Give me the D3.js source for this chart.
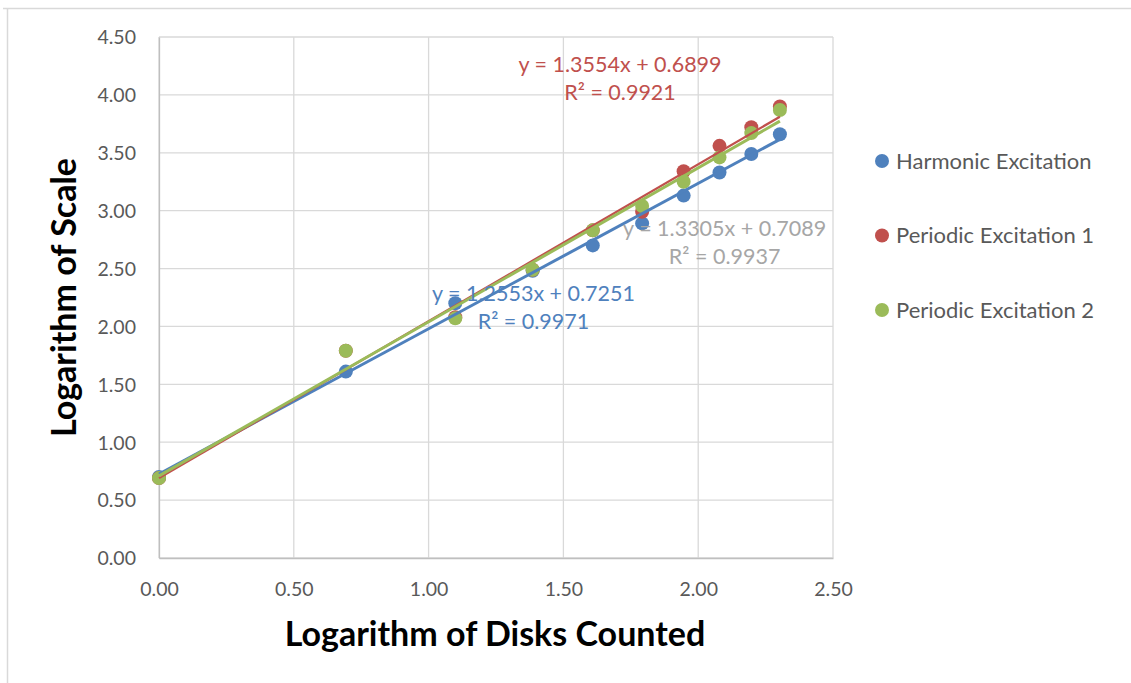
<!DOCTYPE html>
<html><head><meta charset="utf-8">
<script src="https://cdn.jsdelivr.net/npm/d3@7"></script>
<style>
html,body{margin:0;padding:0;background:#fff;}
svg{display:block;font-family:Lato,"Open Sans",sans-serif;}
</style></head>
<body>
<svg id="chart" width="1131" height="683"></svg>
<script>
// ---- data ----
const logDisks = [0, 0.693, 1.099, 1.386, 1.609, 1.792, 1.946, 2.079, 2.197, 2.303];
const seriesNames = ["Harmonic Excitation", "Periodic Excitation 1", "Periodic Excitation 2"];
const harmonic  = [0.70, 1.61, 2.20, 2.48, 2.70, 2.89, 3.13, 3.33, 3.49, 3.66];
const periodic1 = [0.69, 1.79, 2.08, 2.49, 2.83, 2.99, 3.34, 3.56, 3.72, 3.90];
const periodic2 = [0.69, 1.79, 2.07, 2.49, 2.83, 3.04, 3.25, 3.46, 3.67, 3.87];
const slopes     = [1.2553, 1.3554, 1.3305];
const intercepts = [0.7251, 0.6899, 0.7089];
const rSquared   = ["0.9971", "0.9921", "0.9937"];
const xTicks = [0, 0.5, 1, 1.5, 2, 2.5];
const yTicks = [0, 0.5, 1, 1.5, 2, 2.5, 3, 3.5, 4, 4.5];

// ---- styles / layout ----
const colors = ["#4F81BD", "#C0504D", "#9BBB59"];
const labelColors = ["#4F81BD", "#C0504D", "#A6A6A6"];
const lineWidths = [3, 2.3, 3];
// label anchors in data coordinates (center of the equation text)
const labelAnchors = [[1.389, 2.22], [1.71, 4.20], [2.098, 2.78]];

const svg = d3.select("#chart");
const L = 159, R = 833, T = 37, B = 558;
const x = d3.scaleLinear().domain([0, 2.5]).range([L, R]);
const y = d3.scaleLinear().domain([0, 4.5]).range([B, T]);

// chart frame
svg.append("path").attr("d", "M3,8.5H1131M7.5,8V683").attr("fill","none")
  .attr("stroke", "#D9D9D9").attr("stroke-width", 1.5);

// gridlines
svg.append("g").selectAll("line").data(yTicks).join("line")
  .attr("x1", L).attr("x2", R).attr("y1", d => y(d)).attr("y2", d => y(d))
  .attr("stroke", "#D9D9D9").attr("stroke-width", 1.3);
svg.append("g").selectAll("line").data(xTicks).join("line")
  .attr("y1", T).attr("y2", B).attr("x1", d => x(d)).attr("x2", d => x(d))
  .attr("stroke", "#D9D9D9").attr("stroke-width", 1.3);

// axes
const xAxis = svg.append("g").attr("transform", `translate(0,${B})`)
  .call(d3.axisBottom(x).tickValues(xTicks).tickFormat(d3.format(".2f")).tickSize(0).tickPadding(24));
const yAxis = svg.append("g").attr("transform", `translate(${L},0)`)
  .call(d3.axisLeft(y).tickValues(yTicks).tickFormat(d3.format(".2f")).tickSize(0).tickPadding(23));
[xAxis, yAxis].forEach(g => {
  g.select(".domain").attr("stroke", "#BFBFBF").attr("stroke-width", 1.3);
  g.selectAll("text").attr("fill", "#595959").style("font-size", "19.5px")
    .style("font-family", "Lato, 'Open Sans', sans-serif");
});
yAxis.selectAll("text").attr("dy", "0.35em");

// points
const allSeries = [harmonic, periodic1, periodic2];
allSeries.forEach((vals, i) => {
  svg.append("g").selectAll("circle").data(vals).join("circle")
    .attr("cx", (d, j) => x(logDisks[j])).attr("cy", d => y(d))
    .attr("r", 7).attr("fill", colors[i]);
});

// trendlines
allSeries.forEach((vals, i) => {
  const xs = d3.extent(logDisks);
  svg.append("line")
    .attr("x1", x(xs[0])).attr("y1", y(intercepts[i] + slopes[i] * xs[0]))
    .attr("x2", x(xs[1])).attr("y2", y(intercepts[i] + slopes[i] * xs[1]))
    .attr("stroke", colors[i]).attr("stroke-width", lineWidths[i]);
});

// equation labels
allSeries.forEach((vals, i) => {
  const [ax, ay] = labelAnchors[i];
  const t = svg.append("text").attr("text-anchor", "middle")
    .attr("fill", labelColors[i]).style("font-size", "21.5px");
  t.append("tspan").attr("x", x(ax)).attr("y", y(ay))
    .text(`y = ${slopes[i].toFixed(4)}x + ${intercepts[i].toFixed(4)}`);
  t.append("tspan").attr("x", x(ax)).attr("dy", 28)
    .text(`R² = ${rSquared[i]}`);
});

// axis titles
svg.append("text").attr("x", (L + R) / 2 - 1).attr("y", 646)
  .attr("text-anchor", "middle").attr("font-weight", "bold")
  .style("font-size", "34px").attr("fill", "#000").text("Logarithm of Disks Counted");
svg.append("text").attr("transform", `translate(76,${(T + B) / 2}) rotate(-90)`)
  .attr("text-anchor", "middle").attr("font-weight", "bold")
  .style("font-size", "34px").attr("fill", "#000").text("Logarithm of Scale");

// legend
const lg = svg.append("g").selectAll("g").data(seriesNames).join("g")
  .attr("transform", (d, i) => `translate(882,${161 + i * 74.5})`);
lg.append("circle").attr("r", 7).attr("fill", (d, i) => colors[i]);
lg.append("text").attr("x", 14).attr("dy", "0.35em").attr("fill", "#595959")
  .style("font-size", "22px").text(d => d);
</script>
</body></html>
